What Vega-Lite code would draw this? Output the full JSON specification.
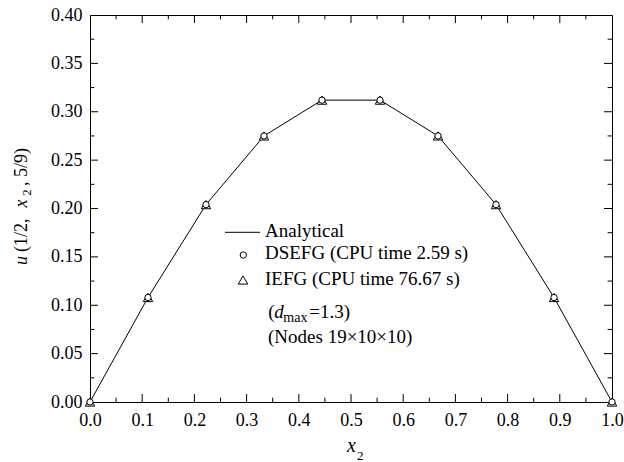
{
  "$schema": "https://vega.github.io/schema/vega-lite/v6.json",
  "width": 522,
  "height": 387,
  "autosize": "none",
  "padding": {"left": 90, "top": 15, "right": 12, "bottom": 60},
  "background": "white",
  "config": {
    "font": "Liberation Serif",
    "view": {"stroke": "black", "strokeWidth": 1},
    "axis": {"grid": false, "title": null, "ticks": false, "domainColor": "black", "tickColor": "black", "labelColor": "black", "labelFont": "Liberation Serif", "labelFontSize": 18, "labelOverlap": false, "labelFlush": false, "labelBound": false, "domainWidth": 1}
  },
  "datasets": {
    "curve": [
      {"x": 0.0, "y": 0.0},
      {"x": 0.1111, "y": 0.108},
      {"x": 0.2222, "y": 0.204},
      {"x": 0.3333, "y": 0.275},
      {"x": 0.4444, "y": 0.312},
      {"x": 0.5556, "y": 0.312},
      {"x": 0.6667, "y": 0.275},
      {"x": 0.7778, "y": 0.204},
      {"x": 0.8889, "y": 0.108},
      {"x": 1.0, "y": 0.0}
    ],
    "xMajor": [{"x": 0.1}, {"x": 0.2}, {"x": 0.3}, {"x": 0.4}, {"x": 0.5}, {"x": 0.6}, {"x": 0.7}, {"x": 0.8}, {"x": 0.9}],
    "xMinor": [{"x": 0.05}, {"x": 0.15}, {"x": 0.25}, {"x": 0.35}, {"x": 0.45}, {"x": 0.55}, {"x": 0.65}, {"x": 0.75}, {"x": 0.85}, {"x": 0.95}],
    "yMajor": [{"y": 0.05}, {"y": 0.1}, {"y": 0.15}, {"y": 0.2}, {"y": 0.25}, {"y": 0.3}, {"y": 0.35}],
    "yMinor": [{"y": 0.025}, {"y": 0.075}, {"y": 0.125}, {"y": 0.175}, {"y": 0.225}, {"y": 0.275}, {"y": 0.325}, {"y": 0.375}],
    "legendNormal": [
      {"x": 0.3352, "y": 0.1709, "t": "Analytical"},
      {"x": 0.3352, "y": 0.1478, "t": "DSEFG (CPU time 2.59 s)"},
      {"x": 0.3352, "y": 0.1209, "t": "IEFG (CPU time 76.67 s)"},
      {"x": 0.3416, "y": 0.0871, "t": "("},
      {"x": 0.4200, "y": 0.0871, "t": "=1.3)"},
      {"x": 0.3410, "y": 0.0607, "t": "(Nodes 19×10×10)"}
    ],
    "legendItalic": [{"x": 0.3531, "y": 0.0871, "t": "d"}],
    "legendSub": [{"x": 0.3703, "y": 0.0830, "t": "max"}],
    "xTitle": [{"x": 0.4923, "y": -0.0517, "t": "x"}],
    "xTitleSub": [{"x": 0.5115, "y": -0.0600, "t": "2"}],
    "yTitleNormal": [
      {"x": -0.1207, "y": 0.1550, "t": "(1/2,"},
      {"x": -0.1207, "y": 0.2233, "t": ", 5/9)"}
    ],
    "yTitleItalic": [
      {"x": -0.1207, "y": 0.1416, "t": "u"},
      {"x": -0.1207, "y": 0.2010, "t": "x"}
    ],
    "yTitleSub": [{"x": -0.1130, "y": 0.2135, "t": "2"}]
  },
  "layer": [
    {"data": {"name": "curve"}, "mark": {"type": "line", "color": "black", "strokeWidth": 1},
      "encoding": {
        "x": {"field": "x", "type": "quantitative", "scale": {"domain": [0, 1], "nice": false, "zero": false},
          "axis": {"orient": "bottom", "values": [0, 0.1, 0.2, 0.3, 0.4, 0.5, 0.6, 0.7, 0.8, 0.9, 1.0], "format": ".1f", "labelPadding": 9}},
        "y": {"field": "y", "type": "quantitative", "scale": {"domain": [0, 0.4], "nice": false, "zero": false},
          "axis": {"orient": "left", "values": [0, 0.05, 0.1, 0.15, 0.2, 0.25, 0.3, 0.35, 0.4], "format": ".2f", "labelPadding": 8}}
      }},
    {"data": {"name": "xMajor"}, "mark": {"type": "rule", "color": "black", "strokeWidth": 1},
      "encoding": {"x": {"field": "x", "type": "quantitative"}, "y": {"datum": 0, "type": "quantitative"}, "y2": {"datum": 0.0083}}},
    {"data": {"name": "xMajor"}, "mark": {"type": "rule", "color": "black", "strokeWidth": 1},
      "encoding": {"x": {"field": "x", "type": "quantitative"}, "y": {"datum": 0.4, "type": "quantitative"}, "y2": {"datum": 0.3917}}},
    {"data": {"name": "xMinor"}, "mark": {"type": "rule", "color": "black", "strokeWidth": 1},
      "encoding": {"x": {"field": "x", "type": "quantitative"}, "y": {"datum": 0, "type": "quantitative"}, "y2": {"datum": 0.0045}}},
    {"data": {"name": "xMinor"}, "mark": {"type": "rule", "color": "black", "strokeWidth": 1},
      "encoding": {"x": {"field": "x", "type": "quantitative"}, "y": {"datum": 0.4, "type": "quantitative"}, "y2": {"datum": 0.3955}}},
    {"data": {"name": "yMajor"}, "mark": {"type": "rule", "color": "black", "strokeWidth": 1},
      "encoding": {"y": {"field": "y", "type": "quantitative"}, "x": {"datum": 0, "type": "quantitative"}, "x2": {"datum": 0.0153}}},
    {"data": {"name": "yMajor"}, "mark": {"type": "rule", "color": "black", "strokeWidth": 1},
      "encoding": {"y": {"field": "y", "type": "quantitative"}, "x": {"datum": 1, "type": "quantitative"}, "x2": {"datum": 0.9847}}},
    {"data": {"name": "yMinor"}, "mark": {"type": "rule", "color": "black", "strokeWidth": 1},
      "encoding": {"y": {"field": "y", "type": "quantitative"}, "x": {"datum": 0, "type": "quantitative"}, "x2": {"datum": 0.0084}}},
    {"data": {"name": "yMinor"}, "mark": {"type": "rule", "color": "black", "strokeWidth": 1},
      "encoding": {"y": {"field": "y", "type": "quantitative"}, "x": {"datum": 1, "type": "quantitative"}, "x2": {"datum": 0.9916}}},
    {"data": {"name": "curve"}, "mark": {"type": "point", "shape": "triangle-up", "size": 90, "filled": true, "fill": "white", "stroke": "black", "strokeWidth": 1, "opacity": 1},
      "encoding": {"x": {"field": "x", "type": "quantitative"}, "y": {"field": "y", "type": "quantitative"}}},
    {"data": {"name": "curve"}, "mark": {"type": "point", "shape": "circle", "size": 40, "filled": true, "fill": "white", "stroke": "black", "strokeWidth": 1, "opacity": 1},
      "encoding": {"x": {"field": "x", "type": "quantitative"}, "y": {"field": "y", "type": "quantitative"}}},
    {"data": {"values": [{"x": 0.2586, "x2": 0.3257, "y": 0.1754}]}, "mark": {"type": "rule", "color": "black", "strokeWidth": 1},
      "encoding": {"x": {"field": "x", "type": "quantitative"}, "x2": {"field": "x2"}, "y": {"field": "y", "type": "quantitative"}}},
    {"data": {"values": [{"x": 0.2937, "y": 0.1519}]}, "mark": {"type": "point", "shape": "circle", "size": 40, "filled": false, "stroke": "black", "strokeWidth": 1, "opacity": 1},
      "encoding": {"x": {"field": "x", "type": "quantitative"}, "y": {"field": "y", "type": "quantitative"}}},
    {"data": {"values": [{"x": 0.2931, "y": 0.1261}]}, "mark": {"type": "point", "shape": "triangle-up", "size": 90, "filled": false, "stroke": "black", "strokeWidth": 1, "opacity": 1},
      "encoding": {"x": {"field": "x", "type": "quantitative"}, "y": {"field": "y", "type": "quantitative"}}},
    {"data": {"name": "legendNormal"}, "mark": {"type": "text", "align": "left", "baseline": "alphabetic", "fontSize": 19, "font": "Liberation Serif", "color": "black"},
      "encoding": {"x": {"field": "x", "type": "quantitative"}, "y": {"field": "y", "type": "quantitative"}, "text": {"field": "t"}}},
    {"data": {"name": "legendItalic"}, "mark": {"type": "text", "align": "left", "baseline": "alphabetic", "fontSize": 19, "fontStyle": "italic", "font": "Liberation Serif", "color": "black"},
      "encoding": {"x": {"field": "x", "type": "quantitative"}, "y": {"field": "y", "type": "quantitative"}, "text": {"field": "t"}}},
    {"data": {"name": "legendSub"}, "mark": {"type": "text", "align": "left", "baseline": "alphabetic", "fontSize": 14, "font": "Liberation Serif", "color": "black"},
      "encoding": {"x": {"field": "x", "type": "quantitative"}, "y": {"field": "y", "type": "quantitative"}, "text": {"field": "t"}}},
    {"data": {"name": "xTitle"}, "mark": {"type": "text", "align": "left", "baseline": "alphabetic", "fontSize": 20, "fontStyle": "italic", "font": "Liberation Serif", "color": "black"},
      "encoding": {"x": {"field": "x", "type": "quantitative"}, "y": {"field": "y", "type": "quantitative"}, "text": {"field": "t"}}},
    {"data": {"name": "xTitleSub"}, "mark": {"type": "text", "align": "left", "baseline": "alphabetic", "fontSize": 13, "font": "Liberation Serif", "color": "black"},
      "encoding": {"x": {"field": "x", "type": "quantitative"}, "y": {"field": "y", "type": "quantitative"}, "text": {"field": "t"}}},
    {"data": {"name": "yTitleNormal"}, "mark": {"type": "text", "align": "left", "baseline": "alphabetic", "angle": 270, "fontSize": 18, "font": "Liberation Serif", "color": "black"},
      "encoding": {"x": {"field": "x", "type": "quantitative"}, "y": {"field": "y", "type": "quantitative"}, "text": {"field": "t"}}},
    {"data": {"name": "yTitleItalic"}, "mark": {"type": "text", "align": "left", "baseline": "alphabetic", "angle": 270, "fontSize": 18, "fontStyle": "italic", "font": "Liberation Serif", "color": "black"},
      "encoding": {"x": {"field": "x", "type": "quantitative"}, "y": {"field": "y", "type": "quantitative"}, "text": {"field": "t"}}},
    {"data": {"name": "yTitleSub"}, "mark": {"type": "text", "align": "left", "baseline": "alphabetic", "angle": 270, "fontSize": 12, "font": "Liberation Serif", "color": "black"},
      "encoding": {"x": {"field": "x", "type": "quantitative"}, "y": {"field": "y", "type": "quantitative"}, "text": {"field": "t"}}}
  ]
}
